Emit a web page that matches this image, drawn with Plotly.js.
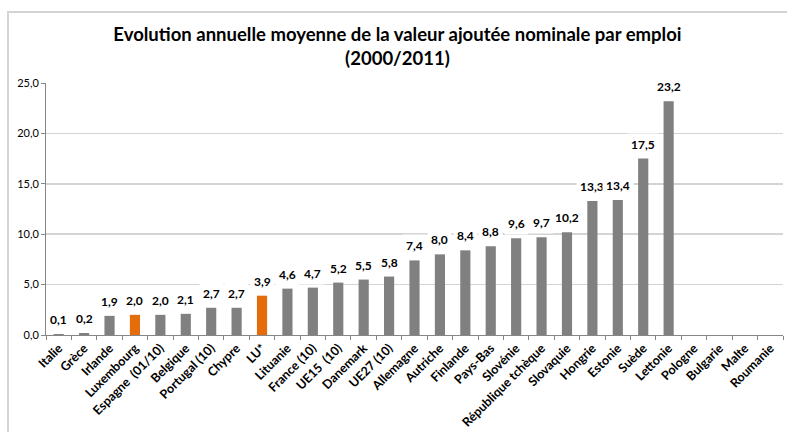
<!DOCTYPE html>
<html>
<head>
<meta charset="utf-8">
<script src="https://cdn.plot.ly/plotly-3.0.1.min.js"></script>
<style>
  html, body { margin: 0; padding: 0; background: #fff; overflow: hidden; }
  #chart { width: 787px; height: 432px; position: absolute; left: 0; top: 0; }
  #frame { position: absolute; left: 7px; top: 11px; width: 800px; height: 440px;
           border: 2px solid #d4d4d4; box-sizing: border-box; pointer-events: none; z-index: 5; }
</style>
</head>
<body>
<div id="chart"></div>
<div id="frame"></div>
<script>
const categories = ["Italie", "Grèce", "Irlande", "Luxembourg", "Espagne  (01/10)", "Belgique",
  "Portugal (10)", "Chypre", "LU*", "Lituanie", "France (10)", "UE15  (10)", "Danemark",
  "UE27 (10)", "Allemagne", "Autriche", "Finlande", "Pays-Bas", "Slovénie",
  "République tchèque", "Slovaquie", "Hongrie", "Estonie", "Suède", "Lettonie",
  "Pologne", "Bulgarie", "Malte", "Roumanie"];
const values = [0.1, 0.2, 1.9, 2.0, 2.0, 2.1, 2.7, 2.7, 3.9, 4.6, 4.7, 5.2, 5.5, 5.8,
  7.4, 8.0, 8.4, 8.8, 9.6, 9.7, 10.2, 13.3, 13.4, 17.5, 23.2, null, null, null, null];
const highlighted = ["Luxembourg", "LU*"];
const yTickValues = [0, 5, 10, 15, 20, 25];

const GRAY = "#808080";
const ORANGE = "#E46C0A";
const FONT = "Lato, 'Open Sans', sans-serif";

const colors = categories.map(c => highlighted.includes(c) ? ORANGE : GRAY);
const fmt = v => v.toFixed(1).replace(".", ",");

const annotations = [];
categories.forEach((c, i) => {
  const v = values[i];
  if (v === null) return;
  annotations.push({
    x: c, y: v, xref: "x", yref: "y",
    text: fmt(v),
    showarrow: false, yanchor: "bottom", yshift: 3,
    bgcolor: "#ffffff", borderpad: 3,
    font: { family: FONT, size: 12, color: "#000000", weight: "bold" }
  });
});

const trace = {
  type: "bar",
  x: categories,
  y: values,
  marker: { color: colors, line: { width: 0 } },
  hoverinfo: "none"
};

const layout = {
  width: 787, height: 432,
  paper_bgcolor: "#ffffff", plot_bgcolor: "#ffffff",
  margin: { l: 46, r: 4, t: 82.5, b: 97 },
  bargap: 0.6,
  showlegend: false,
  separators: ", ",
  font: { family: FONT, color: "#000000" },
  title: {
    text: "Evolution annuelle moyenne de la valeur ajoutée nominale par emploi<br>(2000/2011)",
    font: { family: FONT, size: 18.5, color: "#000000", weight: "bold" },
    xref: "container", x: 0.505, xanchor: "center",
    yref: "container", y: 1 - 41 / 432, yanchor: "top"
  },
  xaxis: {
    type: "category",
    tickangle: -45,
    tickfont: { family: FONT, size: 12.5, color: "#000000", weight: "bold" },
    showline: true, linecolor: "#868686", linewidth: 1,
    ticks: "outside", ticklen: 4, tickcolor: "#868686", tickson: "boundaries",
    showgrid: false, zeroline: false,
    range: [-0.5, categories.length - 0.5]
  },
  yaxis: {
    range: [0, 25],
    tickvals: yTickValues,
    tickformat: ".1f",
    tickfont: { family: FONT, size: 11, color: "#000000" },
    showline: true, linecolor: "#868686", linewidth: 1,
    ticks: "outside", ticklen: 4, tickcolor: "#868686",
    showgrid: true, gridcolor: "#d4d4d4", gridwidth: 1.5,
    zeroline: false
  },
  annotations: annotations
};

Plotly.newPlot("chart", [trace], layout, { displayModeBar: false, staticPlot: true });
</script>
</body>
</html>
